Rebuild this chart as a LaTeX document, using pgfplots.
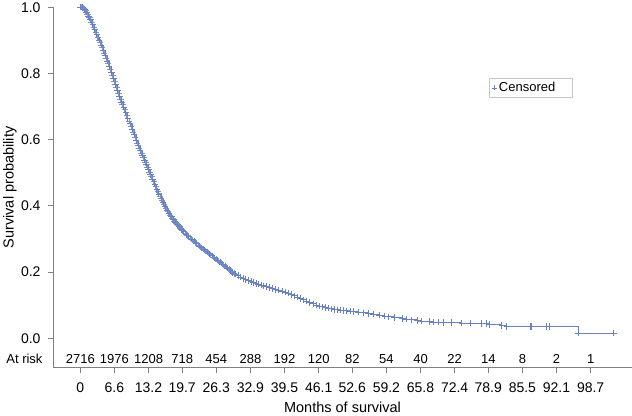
\documentclass[border=0pt]{standalone}
\usepackage{pgfplots}
\usepackage{pgfplotstable}
\usepackage{fontspec}
\setmainfont{Liberation Sans}
\pgfplotsset{compat=1.18}
\definecolor{kmblue}{RGB}{104,128,196}
\definecolor{axgray}{RGB}{128,128,128}
\tikzset{risk/.style={font=\fontsize{13}{15}\selectfont}}

% Kaplan-Meier estimate (months, survival)
\pgfplotstableread{
t     s
0     1.000
0.4   1.000
0.8   0.995
1.2   0.985
1.6   0.973
2.0   0.962
2.4   0.948
2.8   0.932
3.2   0.917
3.6   0.901
4.0   0.886
4.4   0.870
4.8   0.855
5.2   0.838
5.6   0.821
6.0   0.803
6.4   0.785
6.8   0.766
7.2   0.748
7.6   0.731
8.0   0.714
8.4   0.698
8.8   0.682
9.2   0.664
9.6   0.648
10.0  0.632
10.4  0.615
10.8  0.598
11.2  0.582
11.6  0.567
12.0  0.553
12.4  0.538
12.8  0.524
13.2  0.510
13.6  0.495
14.0  0.481
14.4  0.466
14.8  0.450
15.2  0.436
15.6  0.422
16.0  0.410
16.4  0.398
16.8  0.387
17.2  0.377
17.6  0.367
18.0  0.358
18.4  0.351
18.8  0.344
19.2  0.337
19.6  0.329
20.0  0.322
20.5  0.314
21.0  0.307
21.5  0.300
22.0  0.293
22.5  0.286
23.0  0.279
23.5  0.273
24.0  0.267
24.5  0.261
25.0  0.255
25.5  0.249
26.0  0.242
26.5  0.236
27.0  0.230
27.5  0.224
28.0  0.218
28.5  0.212
29.0  0.205
29.5  0.199
30.0  0.194
30.5  0.189
31.0  0.185
31.5  0.181
32.0  0.177
32.5  0.174
33.0  0.171
33.5  0.168
34.0  0.166
34.5  0.163
35.0  0.161
35.5  0.158
36.0  0.156
36.6  0.153
37.2  0.150
37.8  0.147
38.4  0.145
39.0  0.142
39.6  0.139
40.2  0.136
40.8  0.132
41.4  0.128
42.0  0.124
42.6  0.120
43.2  0.116
43.8  0.112
44.4  0.108
45.0  0.104
45.6  0.100
46.2  0.097
46.8  0.095
47.4  0.093
48.0  0.091
48.6  0.089
49.2  0.087
49.8  0.086
50.4  0.085
50.9  0.084
51.4  0.083
52.2  0.082
52.8  0.081
53.8  0.079
54.7  0.077
55.7  0.075
56.7  0.073
57.8  0.070
58.9  0.067
59.6  0.065
60.8  0.063
62.2  0.060
63.1  0.058
64.1  0.056
65.1  0.054
66.0  0.052
67.6  0.050
68.3  0.049
69.2  0.049
70.2  0.048
71.8  0.047
73.8  0.046
75.4  0.046
77.6  0.045
78.6  0.045
79.2  0.042
81.5  0.038
82.5  0.036
87.0  0.036
87.3  0.036
90.2  0.036
90.8  0.036
96.3  0.015
103.1 0.015
}\kmdata

% further censoring marks in the dense early part
\pgfplotstableread{
t     s
0.2   1.000
0.6   0.998
1.0   0.990
1.4   0.979
1.8   0.968
2.2   0.955
2.6   0.940
3.0   0.925
3.4   0.909
3.8   0.894
4.2   0.878
4.6   0.862
5.0   0.846
5.4   0.830
5.8   0.812
6.2   0.794
6.6   0.776
7.0   0.757
7.4   0.740
7.8   0.723
8.2   0.706
8.6   0.690
9.0   0.673
9.4   0.656
9.8   0.640
10.2  0.623
10.6  0.606
11.0  0.590
11.4  0.575
11.8  0.560
12.2  0.545
12.6  0.531
13.0  0.517
13.4  0.502
13.8  0.488
14.2  0.473
14.6  0.458
15.0  0.443
15.4  0.429
15.8  0.416
16.2  0.404
16.6  0.392
17.0  0.382
17.4  0.372
17.8  0.362
18.2  0.354
18.6  0.347
19.0  0.340
19.4  0.333
19.8  0.325
20.25 0.318
20.75 0.310
21.25 0.303
21.75 0.296
22.25 0.289
22.75 0.282
23.25 0.276
23.75 0.270
24.25 0.264
24.75 0.258
25.25 0.252
25.75 0.245
26.25 0.239
26.75 0.233
27.25 0.227
27.75 0.221
28.25 0.215
28.75 0.208
29.25 0.202
29.75 0.196
}\kmextra

\begin{document}
\begin{tikzpicture}
\begin{axis}[
  scale only axis,
  width=579pt, height=360.4pt,
  xmin=-5.28, xmax=106.7,
  ymin=-0.089, ymax=1.0,
  clip=false,
  axis lines=left,
  axis line style={-, axgray, line width=0.8pt},
  tick style={axgray, line width=0.8pt},
  tick align=outside,
  major tick length=5pt,
  font=\fontsize{14}{16}\selectfont,
  xticklabel style={yshift=-6pt},
  yticklabel style={xshift=-4pt},
  xtick={0,6.6,13.2,19.7,26.3,32.9,39.5,46.1,52.6,59.2,65.8,72.4,78.9,85.5,92.1,98.7},
  xticklabels={0,6.6,13.2,19.7,26.3,32.9,39.5,46.1,52.6,59.2,65.8,72.4,78.9,85.5,92.1,98.7},
  ytick={0,0.2,0.4,0.6,0.8,1.0},
  yticklabels={0.0,0.2,0.4,0.6,0.8,1.0},
  xlabel={Months of survival},
  ylabel={Survival probability},
  label style={font=\fontsize{14.5}{16}\selectfont},
  xlabel style={at={(axis description cs:0.5,-0.1096)}, anchor=center},
  ylabel style={at={(axis description cs:-0.0743,0.5)}, anchor=center},
  legend style={at={(axis cs:79.0,0.786)}, anchor=north west,
    draw=gray!45, font=\fontsize{13}{15}\selectfont,
    inner xsep=3pt, inner ysep=1pt, minimum height=17pt},
  legend image post style={mark size=2.5pt, mark options={line width=0.4pt}},
  legend cell align=left,
]
\addplot[const plot, kmblue, line width=0.9pt, forget plot] table[x=t, y=s] {\kmdata};
\addplot[only marks, mark=+, mark size=3.2pt, kmblue!85, mark options={line width=0.8pt},
  forget plot] table[x=t, y=s] {\kmextra};
\addplot[only marks, mark=+, mark size=3.2pt, kmblue, mark options={line width=0.8pt},
  skip coords between index={163}{164}] table[x=t, y=s] {\kmdata};
\addlegendentry{Censored\rule{12pt}{0pt}}

% numbers at risk
\node[risk, anchor=east] at (axis cs:-6.63,-0.063) {At risk};
\node[risk] at (axis cs:0,-0.063) {2716};
\node[risk] at (axis cs:6.6,-0.063) {1976};
\node[risk] at (axis cs:13.2,-0.063) {1208};
\node[risk] at (axis cs:19.7,-0.063) {718};
\node[risk] at (axis cs:26.3,-0.063) {454};
\node[risk] at (axis cs:32.9,-0.063) {288};
\node[risk] at (axis cs:39.5,-0.063) {192};
\node[risk] at (axis cs:46.1,-0.063) {120};
\node[risk] at (axis cs:52.6,-0.063) {82};
\node[risk] at (axis cs:59.2,-0.063) {54};
\node[risk] at (axis cs:65.8,-0.063) {40};
\node[risk] at (axis cs:72.4,-0.063) {22};
\node[risk] at (axis cs:78.9,-0.063) {14};
\node[risk] at (axis cs:85.5,-0.063) {8};
\node[risk] at (axis cs:92.1,-0.063) {2};
\node[risk] at (axis cs:98.7,-0.063) {1};
\end{axis}
\pgfresetboundingbox
\path (current axis.south west) ++(-53pt,-48.3pt) coordinate (bbsw);
\path (current axis.north east) ++(0pt,7.3pt) coordinate (bbne);
\useasboundingbox (bbsw) rectangle (bbne);
\end{tikzpicture}
\end{document}
